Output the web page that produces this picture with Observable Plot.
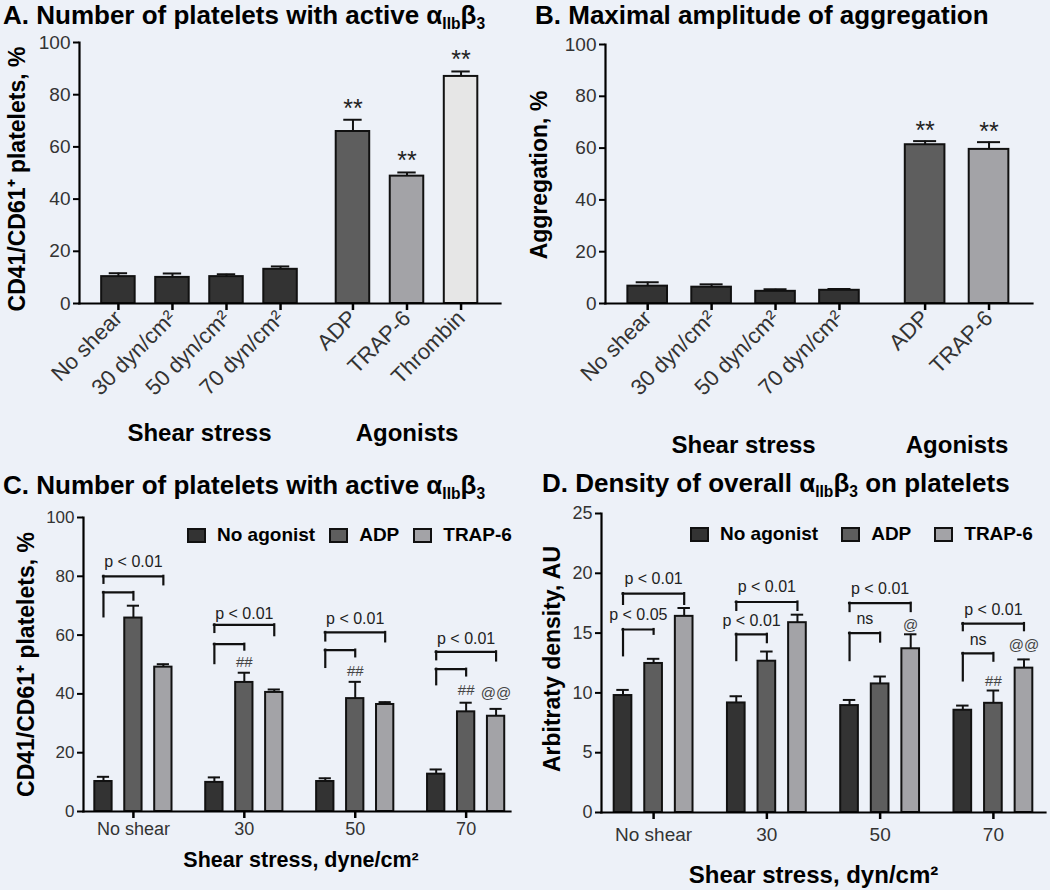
<!DOCTYPE html>
<html>
<head>
<meta charset="utf-8">
<script src="https://cdn.jsdelivr.net/npm/d3@7"></script>
<script src="https://cdn.jsdelivr.net/npm/@observablehq/plot@0.6"></script>
<style>
html, body { margin: 0; padding: 0; background: #edf1f8; }
#root { position: relative; width: 1050px; height: 890px; overflow: hidden; font-family: "Liberation Sans", Arial, sans-serif; color: #000; }
.title { position: absolute; font-weight: bold; font-size: 26px; line-height: 30px; white-space: nowrap; }
.title sub { font-size: 0.6em; line-height: 0; vertical-align: -0.3em; }
.panel { position: absolute; }
.legend { position: absolute; display: flex; align-items: center; font-weight: bold; font-size: 19px; white-space: nowrap; line-height: 20px; }
.legend .item { display: flex; align-items: center; }
.legend .sw { width: 15px; height: 11px; border: 2px solid #111; margin-right: 11px; }
</style>
</head>
<body>
<div id="root">
  <div class="title" style="left:3px;top:0px">A. Number of platelets with active α<sub>IIb</sub>β<sub>3</sub></div>
  <div class="title" style="left:535px;top:0px">B. Maximal amplitude of aggregation</div>
  <div class="title" style="left:3px;top:470px">C. Number of platelets with active α<sub>IIb</sub>β<sub>3</sub></div>
  <div class="title" style="left:542px;top:468px">D. Density of overall α<sub>IIb</sub>β<sub>3</sub> on platelets</div>
  <div class="panel" id="pA" style="left:0px;top:30px"></div>
  <div class="panel" id="pB" style="left:525px;top:30px"></div>
  <div class="panel" id="pC" style="left:0px;top:490px"></div>
  <div class="panel" id="pD" style="left:525px;top:490px"></div>
  <div class="legend" id="legC" style="left:187px;top:525px"></div>
  <div class="legend" id="legD" style="left:690px;top:524px"></div>
</div>
<script>
// ---------------- Data ----------------
// Panels A and B: categories
const shearCats = ["No shear", "30 dyn/cm²", "50 dyn/cm²", "70 dyn/cm²"];
const agonistCatsA = ["ADP", "TRAP-6", "Thrombin"];
const agonistCatsB = ["ADP", "TRAP-6"];
const groupNames = ["Shear stress", "Agonists"];

// Panel A: CD41/CD61+ platelets, %
const aMeans  = [10.3, 10.0, 10.3, 13.1, 65.9, 48.8, 87.0];
const aErrors = [1.3, 1.5, 0.9, 1.1, 4.5, 1.4, 1.9];
const aStars  = ["", "", "", "", "**", "**", "**"];

// Panel B: Aggregation, %
const bMeans  = [6.7, 6.3, 4.7, 5.1, 61.3, 59.5];
const bErrors = [1.5, 1.1, 0.8, 0.5, 1.4, 2.8];
const bStars  = ["", "", "", "", "**", "**"];

const pctTicks = [0, 20, 40, 60, 80, 100];
const auTicks = [0, 5, 10, 15, 20, 25];

// Panels C and D: grouped by shear stress
const shearGroups = ["No shear", "30", "50", "70"];
const seriesNames = ["No agonist", "ADP", "TRAP-6"];

// Panel C: CD41/CD61+ platelets, %
const cNoAgonist    = [10.2, 9.9, 10.2, 12.7];
const cNoAgonistErr = [1.6, 1.7, 1.1, 1.6];
const cADP          = [65.8, 43.9, 38.4, 33.9];
const cADPErr       = [4.2, 3.3, 5.7, 3.1];
const cTRAP         = [49.1, 40.5, 36.4, 32.4];
const cTRAPErr      = [1.0, 1.0, 0.8, 2.5];

// Panel D: arbitrary density, AU
const dNoAgonist    = [9.78, 9.16, 8.94, 8.55];
const dNoAgonistErr = [0.47, 0.56, 0.47, 0.39];
const dADP          = [12.46, 12.65, 10.75, 9.13];
const dADPErr       = [0.39, 0.81, 0.62, 1.07];
const dTRAP         = [16.4, 15.87, 13.69, 12.07];
const dTRAPErr      = [0.7, 0.67, 1.21, 0.73];

// Significance brackets: group, from series, to series, bracket top, leg ends, label
const bracketsC = [
  {group: "No shear", from: "No agonist", to: "TRAP-6", top: 80.0, leftEnd: 77.6, rightEnd: 77.1, label: "p < 0.01", labelY: 84.9},
  {group: "No shear", from: "No agonist", to: "ADP",    top: 74.5, leftEnd: 66.2, rightEnd: 71.9, label: "", labelY: 0},
  {group: "30", from: "No agonist", to: "TRAP-6", top: 63.5, leftEnd: 60.9, rightEnd: 59.8, label: "p < 0.01", labelY: 67.1},
  {group: "30", from: "No agonist", to: "ADP",    top: 56.9, leftEnd: 50.3, rightEnd: 54.9, label: "", labelY: 0},
  {group: "50", from: "No agonist", to: "TRAP-6", top: 60.9, leftEnd: 58.0, rightEnd: 57.7, label: "p < 0.01", labelY: 65.4},
  {group: "50", from: "No agonist", to: "ADP",    top: 54.9, leftEnd: 49.0, rightEnd: 52.6, label: "", labelY: 0},
  {group: "70", from: "No agonist", to: "TRAP-6", top: 54.3, leftEnd: 51.6, rightEnd: 51.2, label: "p < 0.01", labelY: 58.8},
  {group: "70", from: "No agonist", to: "ADP",    top: 48.4, leftEnd: 43.1, rightEnd: 46.1, label: "", labelY: 0}
];
const marksC = [
  {group: "30", series: "ADP", text: "##", y: 50.7},
  {group: "50", series: "ADP", text: "##", y: 47.8},
  {group: "70", series: "ADP", text: "##", y: 41.3},
  {group: "70", series: "TRAP-6", text: "@@", y: 40.2}
];
const bracketsD = [
  {group: "No shear", from: "No agonist", to: "TRAP-6", top: 18.3, leftEnd: 17.4, rightEnd: 17.4, label: "p < 0.01", labelY: 19.5},
  {group: "No shear", from: "No agonist", to: "ADP",    top: 15.3, leftEnd: 13.1, rightEnd: 14.9, label: "p < 0.05", labelY: 16.5},
  {group: "30", from: "No agonist", to: "TRAP-6", top: 17.6, leftEnd: 16.9, rightEnd: 16.9, label: "p < 0.01", labelY: 18.85},
  {group: "30", from: "No agonist", to: "ADP",    top: 14.9, leftEnd: 12.7, rightEnd: 14.2, label: "p < 0.01", labelY: 16.0},
  {group: "50", from: "No agonist", to: "TRAP-6", top: 17.5, leftEnd: 16.8, rightEnd: 16.8, label: "p < 0.01", labelY: 18.7},
  {group: "50", from: "No agonist", to: "ADP",    top: 15.0, leftEnd: 12.7, rightEnd: 14.25, label: "ns", labelY: 16.2},
  {group: "70", from: "No agonist", to: "TRAP-6", top: 15.8, leftEnd: 15.2, rightEnd: 15.2, label: "p < 0.01", labelY: 16.95},
  {group: "70", from: "No agonist", to: "ADP",    top: 13.3, leftEnd: 11.0, rightEnd: 12.65, label: "ns", labelY: 14.4}
];
const marksD = [
  {group: "50", series: "TRAP-6", text: "@", y: 15.7},
  {group: "70", series: "ADP", text: "##", y: 11.0},
  {group: "70", series: "TRAP-6", text: "@@", y: 14.0}
];

// ---------------- Style ----------------
const FONT = '"Liberation Sans", Arial, sans-serif';
const kindDomain = ["No agonist", "ADP", "TRAP-6", "Thrombin"];
const kindColors = ["#333333", "#5e5e5e", "#a3a3a7", "#e6e6e6"];
const GROUP_GAP = 0.34;     // extra spacing between shear and agonist groups (A, B)
const SERIES_OFFSET = 0.27; // bar offset within a shear group (C, D)

function kindOf(cat) { return kindDomain.includes(cat) ? cat : "No agonist"; }

function rowsFor(agonists, means, errors, stars) {
  const cats = [...shearCats, ...agonists];
  return cats.map((cat, i) => ({
    cat,
    group: i < shearCats.length ? 0 : 1,
    pos: i < shearCats.length ? i : i + GROUP_GAP,
    kind: kindOf(cat),
    mean: means[i],
    err: errors[i],
    star: stars[i]
  }));
}

function categoryPanel(rows, o) {
  const labelOf = new Map(rows.map(d => [d.pos, d.cat]));
  const groupLabels = groupNames.map((name, g) => ({name, pos: d3.mean(rows.filter(d => d.group === g), d => d.pos)}));
  return Plot.plot({
    width: o.width, height: o.height,
    marginLeft: o.ml, marginRight: o.mr, marginTop: o.mt, marginBottom: o.mb,
    style: {background: "transparent", fontFamily: FONT, overflow: "visible"},
    x: {domain: o.xDomain},
    y: {domain: [0, 100]},
    color: {domain: kindDomain, range: kindColors},
    marks: [
      Plot.rect(rows, {x1: d => d.pos - o.half, x2: d => d.pos + o.half, y1: d => 0, y2: "mean", fill: "kind", stroke: "#111", strokeWidth: 2}),
      Plot.ruleX(rows, {x: "pos", y1: "mean", y2: d => d.mean + d.err, stroke: "#111", strokeWidth: 2}),
      Plot.ruleY(rows, {y: d => d.mean + d.err, x1: d => d.pos - o.cap, x2: d => d.pos + o.cap, stroke: "#111", strokeWidth: 2}),
      Plot.text(rows.filter(d => d.star), {x: "pos", y: d => d.mean + d.err, text: "star", lineAnchor: "bottom", dy: o.starDy, fontSize: 25, fill: "#222"}),
      Plot.frame({anchor: "left", stroke: "#000", strokeWidth: 2.2}),
      Plot.frame({anchor: "bottom", stroke: "#000", strokeWidth: 2.2}),
      Plot.axisY({ticks: pctTicks, tickSize: 6, tickPadding: 3, fontSize: 19, fill: "#333", stroke: "#000", strokeWidth: 2, label: null}),
      Plot.axisX({ticks: rows.map(d => d.pos), tickFormat: d => labelOf.get(d), tickRotate: -45, tickSize: 7, tickPadding: 4, fontSize: 22, fill: "#333", stroke: "#000", strokeWidth: 2.5, label: null}),
      Plot.text([o.yLabel], {frameAnchor: "left", textAnchor: "middle", lineAnchor: "middle", rotate: -90, dx: o.yLabelDx, dy: o.yLabelDy, fontSize: 23, fontWeight: "bold", fill: "#000"}),
      Plot.text(groupLabels, {x: "pos", frameAnchor: "bottom", lineAnchor: "middle", text: "name", dy: o.groupDy, fontSize: 24, fontWeight: "bold", fill: "#000"})
    ]
  });
}

function groupedRows(values, errs) {
  return shearGroups.flatMap((g, gi) => seriesNames.map((s, si) => ({
    group: g, series: s, kind: s,
    pos: gi + (si - 1) * SERIES_OFFSET,
    mean: values[si][gi], err: errs[si][gi]
  })));
}
function posOf(group, series) {
  return shearGroups.indexOf(group) + (seriesNames.indexOf(series) - 1) * SERIES_OFFSET;
}

function groupedPanel(rows, brackets, marks, o) {
  const half = 0.078, cap = 0.055;
  return Plot.plot({
    width: o.width, height: o.height,
    marginLeft: o.ml, marginRight: o.mr, marginTop: o.mt, marginBottom: o.mb,
    style: {background: "transparent", fontFamily: FONT, overflow: "visible"},
    x: {domain: o.xDomain},
    y: {domain: o.yDomain},
    color: {domain: kindDomain, range: kindColors},
    marks: [
      Plot.rect(rows, {x1: d => d.pos - half, x2: d => d.pos + half, y1: d => 0, y2: "mean", fill: "kind", stroke: "#111", strokeWidth: 2}),
      Plot.ruleX(rows, {x: "pos", y1: "mean", y2: d => d.mean + d.err, stroke: "#111", strokeWidth: 2}),
      Plot.ruleY(rows, {y: d => d.mean + d.err, x1: d => d.pos - cap, x2: d => d.pos + cap, stroke: "#111", strokeWidth: 2}),
      // significance brackets
      Plot.ruleY(brackets, {y: "top", x1: d => posOf(d.group, d.from), x2: d => posOf(d.group, d.to), stroke: "#111", strokeWidth: 2.2, strokeLinecap: "square"}),
      Plot.ruleX(brackets, {x: d => posOf(d.group, d.from), y1: "leftEnd", y2: "top", stroke: "#111", strokeWidth: 2.2, strokeLinecap: "square"}),
      Plot.ruleX(brackets, {x: d => posOf(d.group, d.to), y1: "rightEnd", y2: "top", stroke: "#111", strokeWidth: 2.2, strokeLinecap: "square"}),
      Plot.text(brackets.filter(d => d.label), {x: d => (posOf(d.group, d.from) + posOf(d.group, d.to)) / 2, y: "labelY", text: "label", fontSize: 16, fill: "#222"}),
      Plot.text(marks, {x: d => posOf(d.group, d.series), y: "y", text: "text", fontSize: 15, fill: "#444"}),
      Plot.frame({anchor: "left", stroke: "#000", strokeWidth: 2.2}),
      Plot.frame({anchor: "bottom", stroke: "#000", strokeWidth: 2.2}),
      Plot.axisY({ticks: o.yTicks, tickSize: 6, tickPadding: 3, fontSize: o.tickFont, fill: "#333", stroke: "#000", strokeWidth: 2, label: null}),
      Plot.axisX({ticks: shearGroups.map((g, i) => i), tickFormat: i => shearGroups[i], tickSize: 7, tickPadding: o.xTickPad, fontSize: o.xTickFont, fill: "#333", stroke: "#000", strokeWidth: 2.5, label: null}),
      Plot.text([o.yLabel], {frameAnchor: "left", textAnchor: "middle", lineAnchor: "middle", rotate: -90, dx: o.yLabelDx, dy: o.yLabelDy, fontSize: 23, fontWeight: "bold", fill: "#000"}),
      Plot.text([o.xLabel], {frameAnchor: "bottom", lineAnchor: "middle", dy: o.xLabelDy, dx: o.xLabelDx, fontSize: o.xLabelFont, fontWeight: "bold", fill: "#000"})
    ]
  });
}

// ---------------- Render ----------------
document.getElementById("pA").appendChild(categoryPanel(
  rowsFor(agonistCatsA, aMeans, aErrors, aStars),
  {width: 525, height: 420, ml: 79, mr: 25, mt: 12, mb: 147, xDomain: [-0.72, 7.07], half: 0.31, cap: 0.17,
   starDy: -3, yLabel: "CD41/CD61⁺ platelets, %", yLabelDx: -62, yLabelDy: 6, groupDy: 130}
));
document.getElementById("pB").appendChild(categoryPanel(
  rowsFor(agonistCatsB, bMeans, bErrors, bStars),
  {width: 525, height: 430, ml: 80, mr: 18, mt: 14, mb: 157, xDomain: [-0.66, 6.02], half: 0.31, cap: 0.18,
   starDy: -2, yLabel: "Aggregation, %", yLabelDx: -66, yLabelDy: 1, groupDy: 142}
));
document.getElementById("pC").appendChild(groupedPanel(
  groupedRows([cNoAgonist, cADP, cTRAP], [cNoAgonistErr, cADPErr, cTRAPErr]), bracketsC, marksC,
  {width: 525, height: 400, ml: 83, mr: 15, mt: 27, mb: 79, xDomain: [-0.45, 3.40], yDomain: [0, 100], yTicks: pctTicks,
   tickFont: 17, xTickFont: 18, xTickPad: 4, yLabel: "CD41/CD61⁺ platelets, %", yLabelDx: -57, yLabelDy: 0,
   xLabel: "Shear stress, dyne/cm²", xLabelDy: 49, xLabelDx: 4, xLabelFont: 21.5}
));
document.getElementById("pD").appendChild(groupedPanel(
  groupedRows([dNoAgonist, dADP, dTRAP], [dNoAgonistErr, dADPErr, dTRAPErr]), bracketsD, marksD,
  {width: 525, height: 400, ml: 76, mr: 5, mt: 23, mb: 78, xDomain: [-0.46, 3.46], yDomain: [0, 25], yTicks: auTicks,
   tickFont: 18, xTickFont: 19, xTickPad: 8, yLabel: "Arbitraty density, AU", yLabelDx: -49, yLabelDy: -4,
   xLabel: "Shear stress, dyn/cm²", xLabelDy: 63, xLabelDx: -10, xLabelFont: 24}
));

// legends (HTML)
function legend(id) {
  const el = document.getElementById(id);
  seriesNames.forEach((s, i) => {
    const item = document.createElement("div");
    item.className = "item";
    item.style.marginRight = i < seriesNames.length - 1 ? (id === "legD" ? "23px" : "14px") : "0";
    const sw = document.createElement("div");
    sw.className = "sw";
    sw.style.background = kindColors[kindDomain.indexOf(s)];
    const tx = document.createElement("span");
    tx.textContent = s;
    item.appendChild(sw); item.appendChild(tx);
    el.appendChild(item);
  });
}
legend("legC");
legend("legD");
</script>
</body>
</html>
